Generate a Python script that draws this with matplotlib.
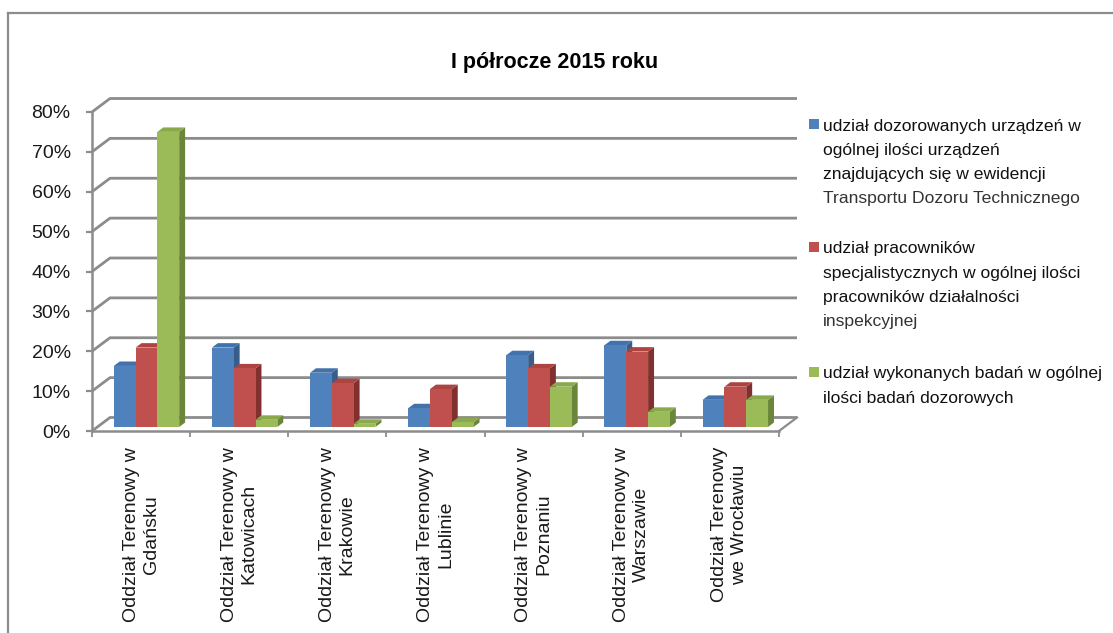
import matplotlib
matplotlib.use("Agg")
import matplotlib.pyplot as plt
from matplotlib.patches import Polygon, Rectangle
import numpy as np

plt.rcParams['font.family'] = ['Liberation Sans', 'DejaVu Sans']

# ---- data -------------------------------------------------------------
categories = [
    "Oddział Terenowy w\nGdańsku",
    "Oddział Terenowy w\nKatowicach",
    "Oddział Terenowy w\nKrakowie",
    "Oddział Terenowy w\nLublinie",
    "Oddział Terenowy w\nPoznaniu",
    "Oddział Terenowy w\nWarszawie",
    "Oddział Terenowy\nwe Wrocławiu",
]
share_devices = [15.3, 19.9, 13.6, 4.7, 18.0, 20.5, 6.8]
share_staff = [19.9, 14.7, 11.0, 9.5, 14.7, 18.9, 10.1]
share_tests = [74.0, 1.8, 0.8, 1.2, 10.1, 3.8, 6.8]

series_labels = [
    ["udział dozorowanych urządzeń w", "ogólnej ilości urządzeń",
     "znajdujących się w ewidencji", "Transportu Dozoru Technicznego"],
    ["udział pracowników", "specjalistycznych w ogólnej ilości",
     "pracowników działalności", "inspekcyjnej"],
    ["udział wykonanych badań w ogólnej", "ilości badań dozorowych"],
]
y_ticks = [0, 10, 20, 30, 40, 50, 60, 70, 80]
title = "I półrocze 2015 roku"

# ---- styling ----------------------------------------------------------
front_cols = ["#4F81BD", "#C0504D", "#9BBB59"]
top_cols = ["#4172AC", "#AD4441", "#89A94C"]
side_cols = ["#385D8A", "#82302E", "#6B863A"]
grid_col = "#8C8C8C"

W, H = 1113, 633
fig = plt.figure(figsize=(W / 100, H / 100), dpi=100)
fig.patch.set_facecolor("white")

# outer chart frame (left and top edges)
fig.add_artist(plt.Line2D([8 / W, 8 / W], [0, 1 - 13 / H], transform=fig.transFigure,
                          color="#8C8C8C", lw=1.6))
fig.add_artist(plt.Line2D([8 / W, 1], [1 - 13 / H, 1 - 13 / H], transform=fig.transFigure,
                          color="#8C8C8C", lw=1.6))

# front plane of the plot area
x0, x1, ytop, ybot = 92, 779, 112, 431
ax = fig.add_axes([x0 / W, (H - ybot) / H, (x1 - x0) / W, (ybot - ytop) / H])
n = len(categories)
ax.set_xlim(0, n)
ax.set_ylim(0, 80)
ax.set_facecolor("none")

px_x = (x1 - x0) / n
px_y = (ybot - ytop) / 80.0
DX = 18 / px_x          # depth offset of the back wall (category units)
DY = 13.5 / px_y        # depth offset of the back wall (percent units)

# side wall and back wall gridlines
for t in y_ticks:
    ax.plot([0, DX, n + DX], [t, t + DY, t + DY], color=grid_col, lw=2.0,
            solid_capstyle="butt", clip_on=False, zorder=1)
# floor right edge
ax.plot([n, n + DX], [0, DY], color=grid_col, lw=1.6, clip_on=False, zorder=1)

# axes lines and ticks
for s in ["top", "right"]:
    ax.spines[s].set_visible(False)
for s in ["left", "bottom"]:
    ax.spines[s].set_color(grid_col)
    ax.spines[s].set_linewidth(1.8)
    ax.spines[s].set_zorder(2)
ax.set_yticks(y_ticks)
ax.set_yticklabels([f"{t}%" for t in y_ticks], fontsize=14, color="#1A1A1A")
ax.tick_params(axis="y", length=4.3, width=1.6, color=grid_col, pad=11)
ax.set_xticks(np.arange(n + 1))
ax.set_xticklabels([])
ax.tick_params(axis="x", length=4.5, width=1.3, color=grid_col)

# 3D-look clustered columns
f0, f1 = 0.30, 0.63
bw = 0.2222
ddx, ddy = (f1 - f0) * DX, (f1 - f0) * DY
series = [share_devices, share_staff, share_tests]
z = 3
for i in range(n):
    for k, vals in enumerate(series):
        v = vals[i]
        left = i + 0.5 - 1.5 * bw + k * bw + f0 * DX
        base = f0 * DY
        right = left + bw
        top = base + v
        side = Polygon([(right, base), (right, top), (right + ddx, top + ddy),
                        (right + ddx, base + ddy)], closed=True,
                       facecolor=side_cols[k], edgecolor="none", zorder=z, clip_on=False)
        ax.add_patch(side)
        topf = Polygon([(left, top), (right, top), (right + ddx, top + ddy),
                        (left + ddx, top + ddy)], closed=True,
                       facecolor=top_cols[k], edgecolor="none", zorder=z, clip_on=False)
        ax.add_patch(topf)
        ax.bar(left, v, width=bw, bottom=base, align="edge", color=front_cols[k],
               edgecolor="none", zorder=z, clip_on=False)
        z += 1

# category labels (rotated, two lines)
label_y = -(447 - ybot) / px_y
for i, lab in enumerate(categories):
    ax.text(i + 0.5, label_y, lab, rotation=90, ha="center", va="top",
            multialignment="center", fontsize=14, color="#1A1A1A",
            linespacing=1.22, clip_on=False)

# title
fig.text(555 / W, 1 - 68 / H, title, ha="center", va="baseline",
         fontsize=15.5, fontweight="bold", color="black")

# legend
entry_baselines = [[130.5, 154.8, 179.1, 203.4],
                   [253.3, 277.6, 301.9, 326.2],
                   [378.3, 402.6]]
for k, lines in enumerate(series_labels):
    b0 = entry_baselines[k][0]
    fig.add_artist(Rectangle((809 / W, 1 - (b0 - 1.5) / H), 10 / W, 10 / H,
                             transform=fig.transFigure, facecolor=front_cols[k],
                             edgecolor="none"))
    for j, line in enumerate(lines):
        col = "#333333" if (j == 3) else "#111111"
        fig.text(823 / W, 1 - entry_baselines[k][j] / H, line, ha="left",
                 va="baseline", fontsize=12.6, color=col)

fig.savefig("out.png", dpi=100, facecolor="white")
